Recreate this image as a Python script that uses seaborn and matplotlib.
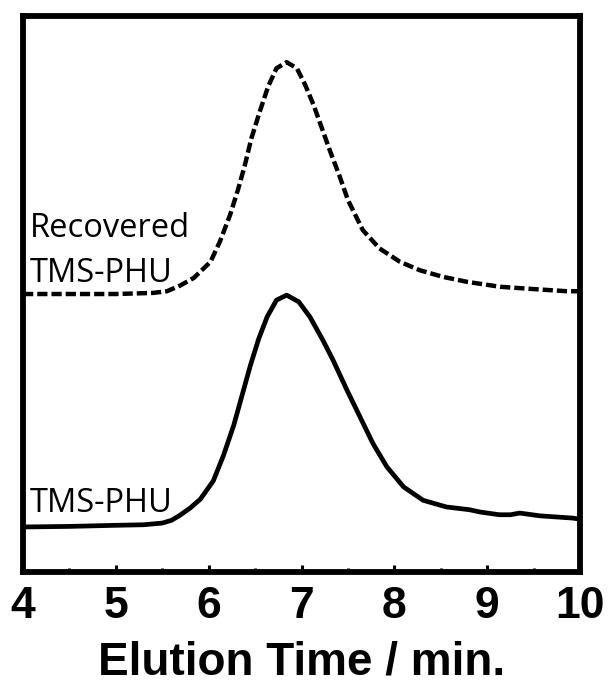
import numpy as np
import pandas as pd
import matplotlib
matplotlib.use("Agg")
import matplotlib.pyplot as plt
import seaborn as sb

#%% Daten (abgelesen aus dem Chromatogramm, Intensität in willkürlichen Einheiten)

# TMS-PHU (durchgezogen)
t_orig = [4.0, 4.5, 5.0, 5.3, 5.5, 5.6, 5.69, 5.8, 5.91, 6.05, 6.16, 6.27, 6.36, 6.45,
          6.54, 6.63, 6.73, 6.84, 6.97, 7.09, 7.23, 7.34, 7.49, 7.63, 7.77, 7.92, 8.1,
          8.31, 8.56, 8.81, 8.92, 9.13, 9.25, 9.35, 9.57, 9.92, 10.0]
i_orig = [8.1, 8.2, 8.4, 8.5, 8.8, 9.3, 10.2, 11.5, 13.1, 16.4, 21.0, 26.4, 31.8, 37.2,
          42.0, 45.9, 48.9, 49.8, 48.6, 45.9, 41.7, 38.1, 32.7, 27.9, 23.1, 18.9, 15.3,
          12.9, 11.7, 11.2, 10.8, 10.3, 10.3, 10.6, 10.1, 9.7, 9.5]

# Recovered TMS-PHU (gestrichelt)
t_rec = [4.0, 5.0, 5.4, 5.55, 5.69, 5.84, 6.02, 6.12, 6.23, 6.32, 6.39, 6.46, 6.55, 6.64,
         6.73, 6.84, 6.95, 7.04, 7.13, 7.22, 7.31, 7.41, 7.5, 7.66, 7.84, 8.06, 8.27,
         8.52, 8.78, 9.14, 9.49, 9.86, 10.0]
i_rec = [50.0, 50.0, 50.2, 50.5, 51.5, 52.9, 55.8, 59.4, 64.2, 69.0, 73.2, 78.0, 82.8, 87.3,
         90.6, 91.7, 90.6, 87.6, 84.0, 79.8, 75.6, 71.2, 66.9, 61.5, 58.2, 55.8, 54.3,
         53.1, 52.2, 51.3, 50.9, 50.5, 50.5]

x_ticks = [4, 5, 6, 7, 8, 9, 10]

#%% Plot

sb.set_style("white")
plt.rcParams['font.family'] = ['Liberation Sans', 'DejaVu Sans']
plt.rcParams['text.color'] = 'black'
plt.rcParams['axes.labelcolor'] = 'black'
plt.rcParams['xtick.color'] = 'black'

df_orig = pd.DataFrame({'t': t_orig, 'I': i_orig})
df_rec = pd.DataFrame({'t': t_rec, 'I': i_rec})

fig = plt.figure(figsize=(6.09, 6.88), dpi=100)
ax = fig.add_axes([0.0378, 0.1686, 0.9146, 0.8081])

sb.lineplot(data=df_orig, x='t', y='I', ax=ax, color='black', lw=3.4)
sb.lineplot(data=df_rec, x='t', y='I', ax=ax, color='black', lw=3.2,
            linestyle=(0, (2.3, 0.9)))

ax.set_xlim(4, 10)
ax.set_ylim(0, 100)
ax.set_xticks(x_ticks)
ax.set_xticks(np.arange(4.5, 10, 1.0), minor=True)
ax.set_yticks([])
ax.tick_params(axis='x', which='both', bottom=True, top=False)
ax.tick_params(axis='x', which='major', direction='in', length=5, width=2.2,
               labelsize=32, pad=10)
ax.tick_params(axis='x', which='minor', direction='in', length=3, width=2.2)
for lab in ax.get_xticklabels():
    lab.set_fontweight('bold')
for sp in ax.spines.values():
    sp.set_linewidth(4.2)
    sp.set_color('black')

ax.set_xlabel('Elution Time / min.', fontsize=33, fontweight='bold', labelpad=10)
ax.set_ylabel('')

# Beschriftungen der Kurven
lbl_font = ['Open Sans', 'DejaVu Sans']
ax.text(4.07, 60.3, 'Recovered', fontsize=23.5, family=lbl_font, ha='left', va='baseline')
ax.text(4.07, 52.2, 'TMS-PHU', fontsize=23.5, family=lbl_font, ha='left', va='baseline')
ax.text(4.07, 10.8, 'TMS-PHU', fontsize=23.5, family=lbl_font, ha='left', va='baseline')

fig.savefig('out.png', dpi=100)
